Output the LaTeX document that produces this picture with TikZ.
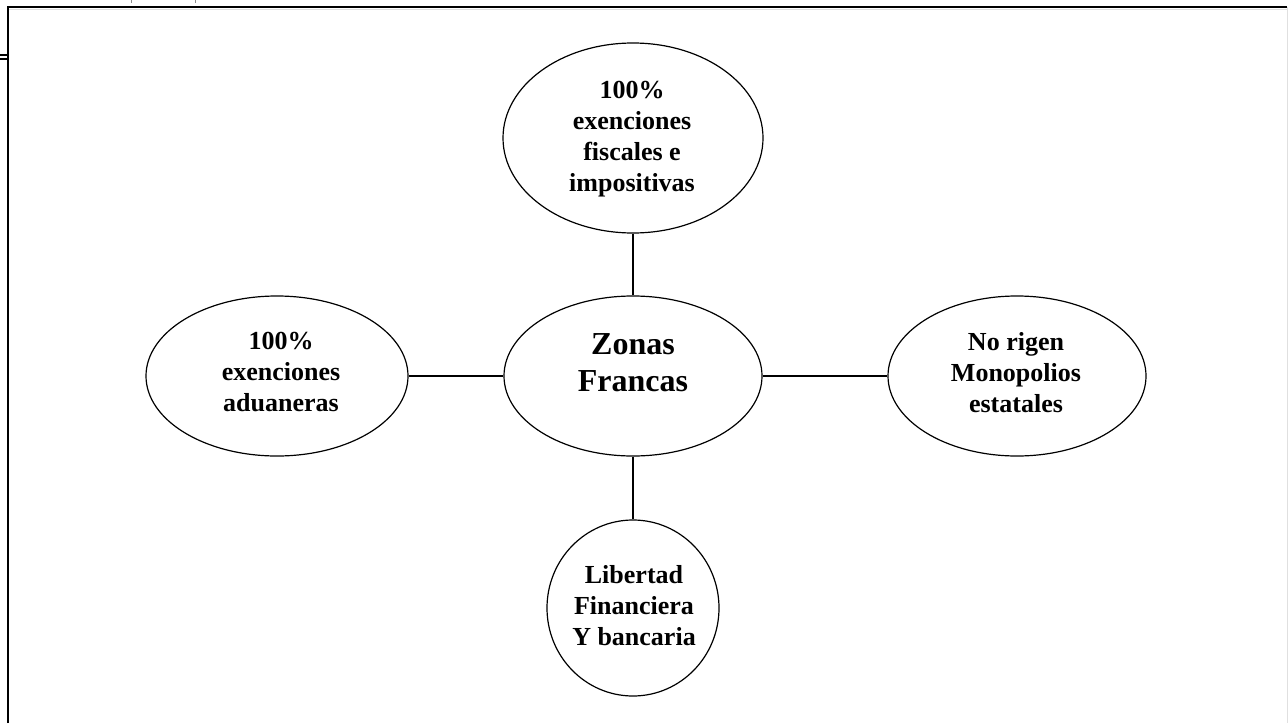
\documentclass[tikz,border=0pt]{standalone}
\usepackage{fontspec}
\setmainfont{Liberation Serif}
\usetikzlibrary{shapes.geometric,calc}
\begin{document}
\begin{tikzpicture}[x=1pt,y=-1pt,
  bubble/.style={draw=black, line width=1.2pt, ellipse, inner sep=0pt},
  btext/.style={align=center, inner sep=0pt, font=\bfseries\fontsize{26}{31}\selectfont},
  bigtext/.style={align=center, inner sep=0pt, font=\bfseries\fontsize{32}{37}\selectfont},
  link/.style={draw=black, line width=1.2pt},
  frameline/.style={draw=black, line width=2pt}]
\useasboundingbox (0,0) rectangle (1288,723);
% frame
\coordinate (fbl) at (8,723);
\coordinate (ftl) at (8,7);
\coordinate (ftr) at (1287,7);
\coordinate (fbr) at (1287,723);
\draw[frameline] (fbl) -- (ftl) -- (ftr);
\draw[draw=black!12, line width=1pt] ($(ftl)+(1,2)$) -- ($(ftr)+(0,2)$);
\draw[draw=black!12, line width=1pt] (ftr) -- (fbr);
% small marks
\coordinate (m1a) at (0,55); \coordinate (m1b) at (7,55);
\coordinate (m2a) at (0,59); \coordinate (m2b) at (7,59);
\draw[line width=1.4pt] (m1a) -- (m1b);
\draw[line width=1.4pt] (m2a) -- (m2b);
\coordinate (t1a) at (131,0); \coordinate (t1b) at (131,2.5);
\coordinate (t2a) at (195,0); \coordinate (t2b) at (195,2.5);
\draw[draw=black!45, line width=1pt] (t1a) -- (t1b);
\draw[draw=black!45, line width=1pt] (t2a) -- (t2b);
% ellipses
\node[bubble, minimum width=260pt, minimum height=190pt] (top) at (633,138) {};
\node[bubble, minimum width=258pt, minimum height=160pt] (mid) at (633,376) {};
\node[bubble, minimum width=262pt, minimum height=160pt] (left) at (277,376) {};
\node[bubble, minimum width=258pt, minimum height=160pt] (right) at (1017,376) {};
\node[bubble, minimum width=172pt, minimum height=176pt] (bot) at (633,608) {};
% texts
\node[btext] (toptext) at (632,139) {100\%\\exenciones\\fiscales e\\impositivas};
\node[bigtext] (midtext) at (633,363) {Zonas\\Francas};
\node[btext] (lefttext) at (281,372) {100\%\\exenciones\\aduaneras};
\node[btext] (righttext) at (1016,373) {No rigen\\Monopolios\\estatales};
\node[btext] (bottext) at (634,606) {Libertad\\Financiera\\Y bancaria};
% connectors
\draw[link] (top.south) -- (mid.north);
\draw[link] (left.east) -- (mid.west);
\draw[link] (mid.east) -- (right.west);
\draw[link] (mid.south) -- (bot.north);
\end{tikzpicture}
\end{document}
